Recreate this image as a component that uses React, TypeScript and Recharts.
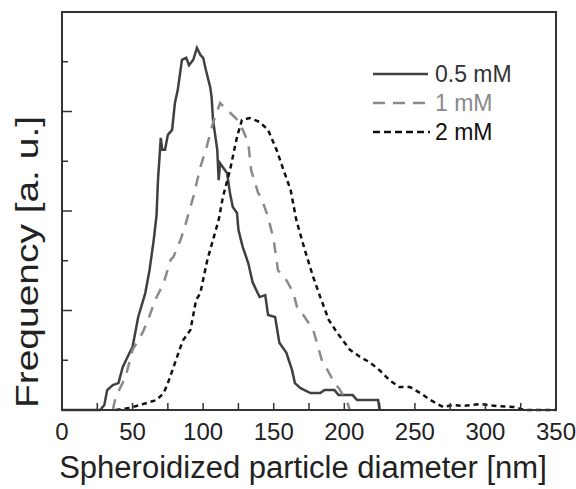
import React from 'react'
import { LineChart, Line, XAxis, YAxis, Label, ReferenceArea } from 'recharts'

// particle size distributions, diameter [nm] vs frequency [a. u.]
const diam05 = [0, 27, 30, 32, 36, 40, 43, 47, 50, 54, 59, 62, 65, 67, 68, 70, 71, 73, 75, 78, 80, 82, 85, 88, 90, 93, 95.6, 98, 100, 102, 105, 106, 107, 110, 111, 112, 114, 117, 119, 121, 124, 125, 128, 132, 135, 140, 144, 146, 151, 154, 159, 163, 165, 169, 176, 183, 186, 193, 196, 206, 209, 224, 225]
const freq05 = [0, 0, 0.1, 0.4, 0.5, 0.54, 0.86, 1.1, 1.27, 1.87, 2.35, 2.81, 3.42, 3.92, 4.62, 5.47, 5.23, 5.23, 5.53, 5.63, 6.17, 6.43, 7.04, 7.08, 6.93, 7.04, 7.28, 7.14, 7.08, 6.83, 6.49, 6.29, 5.83, 5.23, 4.62, 4.96, 4.88, 4.76, 4.36, 4.08, 3.96, 3.62, 3.28, 2.95, 2.57, 2.27, 2.31, 1.91, 1.87, 1.35, 1.15, 0.8, 0.54, 0.44, 0.34, 0.34, 0.4, 0.4, 0.3, 0.3, 0.2, 0.2, 0]

const diam1 = [36, 38, 45, 50, 57, 61, 66, 72, 77, 79, 84, 87, 93, 98, 102.5, 107, 112, 117, 123, 126, 132, 134, 139, 141, 146, 150, 153, 159, 164, 167, 171, 178, 184, 192, 197, 202, 204]
const freq1 = [0, 0.26, 0.66, 1.21, 1.55, 1.81, 2.21, 2.55, 3.02, 3.08, 3.42, 3.68, 4.28, 4.88, 5.29, 5.77, 6.17, 6.03, 5.87, 5.77, 5.37, 4.82, 4.36, 4.28, 3.88, 3.42, 2.81, 2.61, 2.35, 2.01, 1.91, 1.61, 1.01, 0.6, 0.4, 0.16, 0]

const diam2 = [38, 48, 55, 67, 72, 75, 79, 84, 86, 91, 95, 98, 103, 108, 111, 114, 119, 124, 127.5, 133, 140, 146, 152, 157, 162, 166, 168, 172, 178, 183, 189, 195, 204, 211, 218, 225, 232, 239, 246.6, 254, 261, 270, 277, 284, 296, 308, 320, 325, 330, 350]
const freq2 = [0, 0.04, 0.1, 0.2, 0.34, 0.54, 0.86, 1.27, 1.41, 1.61, 2.21, 2.35, 3.02, 3.52, 3.82, 4.28, 4.82, 5.49, 5.83, 5.87, 5.79, 5.63, 5.23, 4.82, 4.42, 3.82, 3.62, 3.22, 2.67, 2.27, 1.81, 1.55, 1.21, 1.07, 0.96, 0.8, 0.6, 0.46, 0.46, 0.34, 0.2, 0.06, 0.1, 0.08, 0.12, 0.08, 0.06, 0.02, 0, 0]

const xTicks = [0, 25, 50, 75, 100, 125, 150, 175, 200, 225, 250, 275, 300, 325, 350]
const yTicks = [1, 2, 3, 4, 5, 6, 7]

const series = [
  { name: '0.5 mM', diam: diam05, freq: freq05, color: '#404040', textColor: '#333', dash: undefined, legendDash: undefined },
  { name: '1 mM', diam: diam1, freq: freq1, color: '#8a8a8a', textColor: '#8a8a8a', dash: '11 9', legendDash: '12 8' },
  { name: '2 mM', diam: diam2, freq: freq2, color: '#111', textColor: '#111', dash: '5 4', legendDash: '7 4' },
]

const FONT = '"Liberation Sans", Arial, sans-serif'
const AXIS = '#333'

const toRows = (d: number[], f: number[]) => d.map((x, i) => ({ x, y: f[i] }))

const XTick = (props: any) => {
  const { x, y, payload } = props
  const v = payload.value
  return (
    <g>
      <line x1={x} y1={y} x2={x} y2={y - 7} stroke={AXIS} strokeWidth={1.5} />
      {v % 50 === 0 && (
        <text x={x} y={y + 30} textAnchor="middle" fontSize={24} fill="#222" fontFamily={FONT}>
          {v}
        </text>
      )}
    </g>
  )
}

const YTick = (props: any) => {
  const { x, y, payload } = props
  const len = payload.value % 2 === 0 ? 10 : 6
  return <line x1={x} y1={y} x2={x + len} y2={y} stroke={AXIS} strokeWidth={1.5} />
}

const YLabel = () => (
  <text
    x={27}
    y={262}
    transform="rotate(-90, 27, 262)"
    textAnchor="middle"
    dominantBaseline="central"
    fontSize={32}
    textLength={292}
    lengthAdjust="spacingAndGlyphs"
    fill="#222"
    fontFamily={FONT}
  >
    Frequency [a. u.]
  </text>
)

const XLabel = () => (
  <text x={303} y={478} textAnchor="middle" fontSize={31} fill="#222" fontFamily={FONT}>
    Spheroidized particle diameter [nm]
  </text>
)

const LegendBox = () => (
  <svg width={170} height={90} style={{ position: 'absolute', left: 370, top: 60 }}>
    {series.map((s, i) => (
      <g key={s.name}>
        <line
          x1={3}
          x2={s.dash ? 60 : 58}
          y1={14 + i * 29}
          y2={14 + i * 29}
          stroke={s.color}
          strokeWidth={2.5}
          strokeDasharray={s.legendDash}
        />
        <text x={65} y={14 + i * 29} dominantBaseline="central" fontSize={23} fill={s.textColor} fontFamily={FONT}>
          {s.name}
        </text>
      </g>
    ))}
  </svg>
)

export default function App() {
  return (
    <div style={{ position: 'absolute', left: 0, top: 0, width: 576, height: 489, background: '#fff', fontFamily: FONT }}>
      <LineChart width={576} height={489} margin={{ top: 12, right: 20, left: 0, bottom: 0 }}>
        <XAxis
          dataKey="x"
          type="number"
          domain={[0, 350]}
          ticks={xTicks}
          interval={0}
          tick={<XTick />}
          tickLine={false}
          tickSize={0}
          tickMargin={0}
          height={79}
          axisLine={{ stroke: AXIS, strokeWidth: 2 }}
          allowDuplicatedCategory={false}
        >
          <Label content={<XLabel />} />
        </XAxis>
        <YAxis
          type="number"
          domain={[0, 8]}
          ticks={yTicks}
          interval={0}
          tick={<YTick />}
          tickLine={false}
          tickSize={0}
          tickMargin={0}
          width={62}
          axisLine={{ stroke: AXIS, strokeWidth: 2 }}
        >
          <Label content={<YLabel />} />
        </YAxis>
        <ReferenceArea x1={0} x2={350} y1={0} y2={8} fill="none" stroke={AXIS} strokeWidth={2} ifOverflow="visible" />
        {series.map((s) => (
          <Line
            key={s.name}
            data={toRows(s.diam, s.freq)}
            dataKey="y"
            name={s.name}
            type="linear"
            stroke={s.color}
            strokeWidth={2.5}
            strokeDasharray={s.dash}
            dot={false}
            activeDot={false}
            isAnimationActive={false}
          />
        ))}
      </LineChart>
      <LegendBox />
    </div>
  )
}
